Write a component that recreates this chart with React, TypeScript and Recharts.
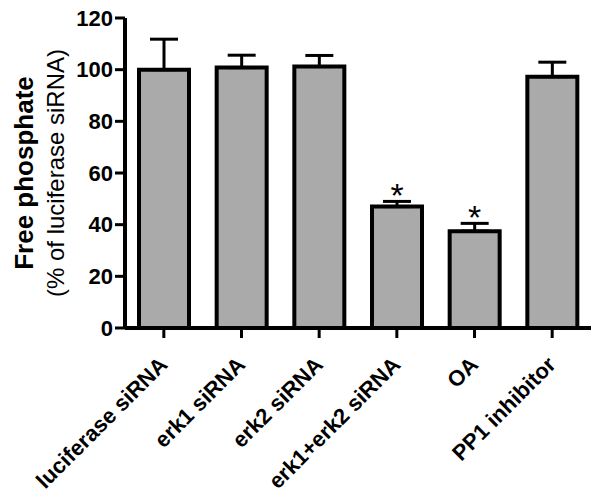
import React from 'react';
import { BarChart, Bar, XAxis, YAxis, ErrorBar, LabelList } from 'recharts';

const categories = ['luciferase siRNA', 'erk1 siRNA', 'erk2 siRNA', 'erk1+erk2 siRNA', 'OA', 'PP1 inhibitor'];
const values = [100, 100.8, 101.2, 47, 37.5, 97.3];
const errors = [11.8, 4.8, 4.3, 2.0, 3.0, 5.6];
const significance = ['', '', '', '*', '*', ''];
const yTicks = [0, 20, 40, 60, 80, 100, 120];

const data = categories.map((name, i) => ({
  name,
  value: values[i],
  err: [0, errors[i]],
  sig: significance[i],
}));

const FONT = '"Liberation Sans", Arial, sans-serif';

const XTick = (props: any) => {
  const { x, y, payload } = props;
  const ax = x + 5;
  const ay = y + 26;
  return (
    <text
      x={ax}
      y={ay}
      transform={`rotate(-45, ${ax}, ${ay})`}
      textAnchor="end"
      fontFamily={FONT}
      fontWeight="bold"
      fontSize={22}
      fill="#000"
    >
      {payload.value}
    </text>
  );
};

const YLabel = (props: any) => {
  const vb = props.viewBox || { x: 0, y: 18, width: 125, height: 310 };
  const cy = vb.y + vb.height / 2;
  return (
    <g>
      <text
        x={33}
        y={cy}
        transform={`rotate(-90, 33, ${cy})`}
        textAnchor="middle"
        fontFamily={FONT}
        fontWeight="bold"
        fontSize={26}
        fill="#000"
      >
        Free phosphate
      </text>
      <text
        x={64}
        y={cy}
        transform={`rotate(-90, 64, ${cy})`}
        textAnchor="middle"
        fontFamily={FONT}
        fontSize={24}
        fill="#000"
      >
        (% of luciferase siRNA)
      </text>
    </g>
  );
};

const StarLabel = (props: any) => {
  const { x, y, width, height, index, value } = props;
  if (!value) return null;
  const v = values[index];
  const pxPerUnit = v ? height / v : 0;
  const errTop = y - errors[index] * pxPerUnit;
  return (
    <text
      x={x + width / 2}
      y={errTop + 6}
      textAnchor="middle"
      fontFamily={FONT}
      fontSize={34}
      fill="#000"
    >
      {value}
    </text>
  );
};

export default function App() {
  return (
    <div style={{ position: 'absolute', left: 0, top: 0, width: 601, height: 501, background: '#fff' }}>
      <BarChart
        width={601}
        height={501}
        data={data}
        margin={{ top: 18, right: 10, bottom: 0, left: 0 }}
        barSize={50}
      >
        <XAxis
          dataKey="name"
          height={173}
          interval={0}
          tick={<XTick />}
          tickSize={10}
          axisLine={{ stroke: '#000', strokeWidth: 4 }}
          tickLine={{ stroke: '#000', strokeWidth: 3 }}
        />
        <YAxis
          width={125}
          domain={[0, 120]}
          ticks={yTicks}
          tickSize={10}
          interval={0}
          axisLine={{ stroke: '#000', strokeWidth: 4 }}
          tickLine={{ stroke: '#000', strokeWidth: 3 }}
          tick={{ fill: '#000', fontFamily: FONT, fontWeight: 'bold', fontSize: 22 }}
          label={<YLabel />}
        />
        <Bar dataKey="value" fill="#aaaaaa" stroke="#000" strokeWidth={4} isAnimationActive={false}>
          <ErrorBar dataKey="err" direction="y" width={14} stroke="#000" strokeWidth={3} isAnimationActive={false} />
          <LabelList dataKey="sig" content={<StarLabel />} />
        </Bar>
      </BarChart>
    </div>
  );
}
